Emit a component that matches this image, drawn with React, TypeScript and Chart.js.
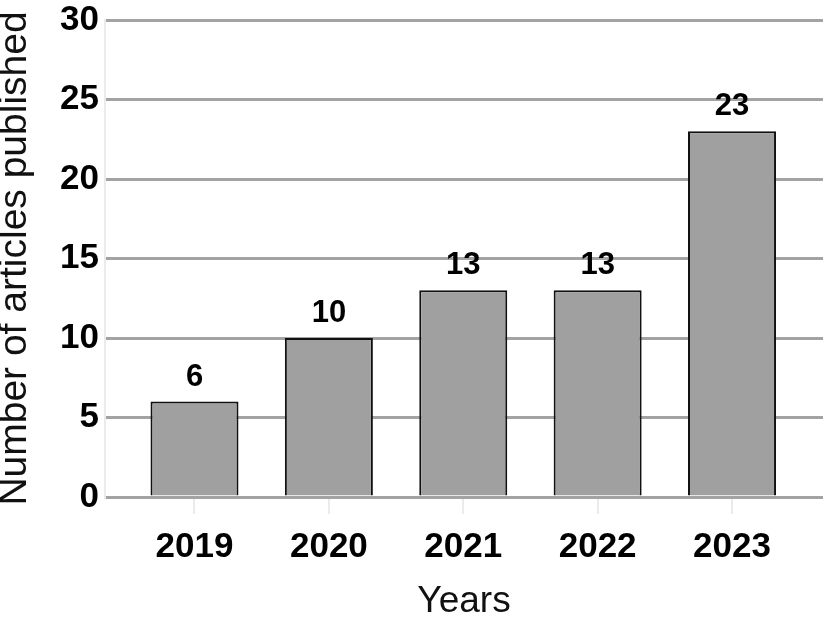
import React, { useEffect, useRef } from "react";
import { Chart, registerables } from "chart.js";

Chart.register(...registerables);

const years = ["2019", "2020", "2021", "2022", "2023"];
const articles = [6, 10, 13, 13, 23];
const yTicks = [0, 5, 10, 15, 20, 25, 30];

const FONT = "'Liberation Sans', Arial, Helvetica, sans-serif";

const valueLabels = {
  id: "valueLabels",
  afterDatasetsDraw(chart: any) {
    const ctx = chart.ctx;
    const meta = chart.getDatasetMeta(0);
    ctx.save();
    ctx.font = `bold 31px ${FONT}`;
    ctx.fillStyle = "#000";
    ctx.textAlign = "center";
    ctx.textBaseline = "alphabetic";
    meta.data.forEach((bar: any, i: number) => {
      ctx.fillText(String(articles[i]), bar.x, bar.y - 16);
    });
    ctx.restore();
  },
};

export default function App() {
  const ref = useRef<HTMLCanvasElement>(null);

  useEffect(() => {
    document.body.style.margin = "0";
    const canvas = ref.current!;
    const chart = new Chart(canvas, {
      type: "bar",
      data: {
        datasets: [
          {
            data: articles.map((v, i) => ({ x: i, y: v })),
            backgroundColor: "#a0a0a0",
            borderColor: "#111",
            borderWidth: 2,
            borderSkipped: "bottom",
            barPercentage: 0.655,
            categoryPercentage: 1,
          },
        ],
      },
      options: {
        responsive: false,
        animation: false,
        devicePixelRatio: 1,
        layout: { padding: { top: 20, right: 3, left: 0, bottom: 0 } },
        plugins: { legend: { display: false }, tooltip: { enabled: false } },
        scales: {
          x: {
            type: "linear",
            offset: false,
            min: -0.666,
            max: 4.677,
            afterBuildTicks: (scale: any) => {
              scale.ticks = years.map((_, i) => ({ value: i }));
            },
            afterFit: (scale: any) => {
              scale.height = 121;
            },
            grid: {
              offset: false,
              drawOnChartArea: false,
              drawTicks: true,
              tickLength: 17,
              color: "#ebebeb",
              lineWidth: 2,
            },
            border: { display: false },
            ticks: {
              autoSkip: false,
              maxRotation: 0,
              padding: 12,
              color: "#000",
              font: { family: FONT, size: 35, weight: "bold" },
              callback: (v: any) => years[v] ?? "",
            },
            title: {
              display: true,
              text: "Years",
              color: "#111",
              padding: 0,
              font: { family: FONT, size: 37, weight: "normal", lineHeight: 0.9 },
            },
          },
          y: {
            min: 0,
            max: 30,
            afterBuildTicks: (scale: any) => {
              scale.ticks = yTicks.map((v) => ({ value: v }));
            },
            afterFit: (scale: any) => {
              scale.width = 105;
            },
            grid: {
              color: "#a3a3a3",
              lineWidth: 3,
              drawTicks: false,
            },
            border: { display: true, color: "#ebebeb", width: 2 },
            ticks: {
              padding: 6,
              color: "#000",
              font: { family: FONT, size: 35, weight: "bold", lineHeight: 0.5 },
            },
            title: {
              display: true,
              text: "Number of articles published",
              color: "#111",
              padding: 0,
              font: { family: FONT, size: 39, weight: "normal", lineHeight: 0.77 },
            },
          },
        },
      },
      plugins: [valueLabels],
    } as any);
    return () => chart.destroy();
  }, []);

  return (
    <div style={{ position: "absolute", left: 0, top: 0, width: 826, height: 618, background: "#fff" }}>
      <canvas ref={ref} width={826} height={618} style={{ display: "block" }} />
    </div>
  );
}
